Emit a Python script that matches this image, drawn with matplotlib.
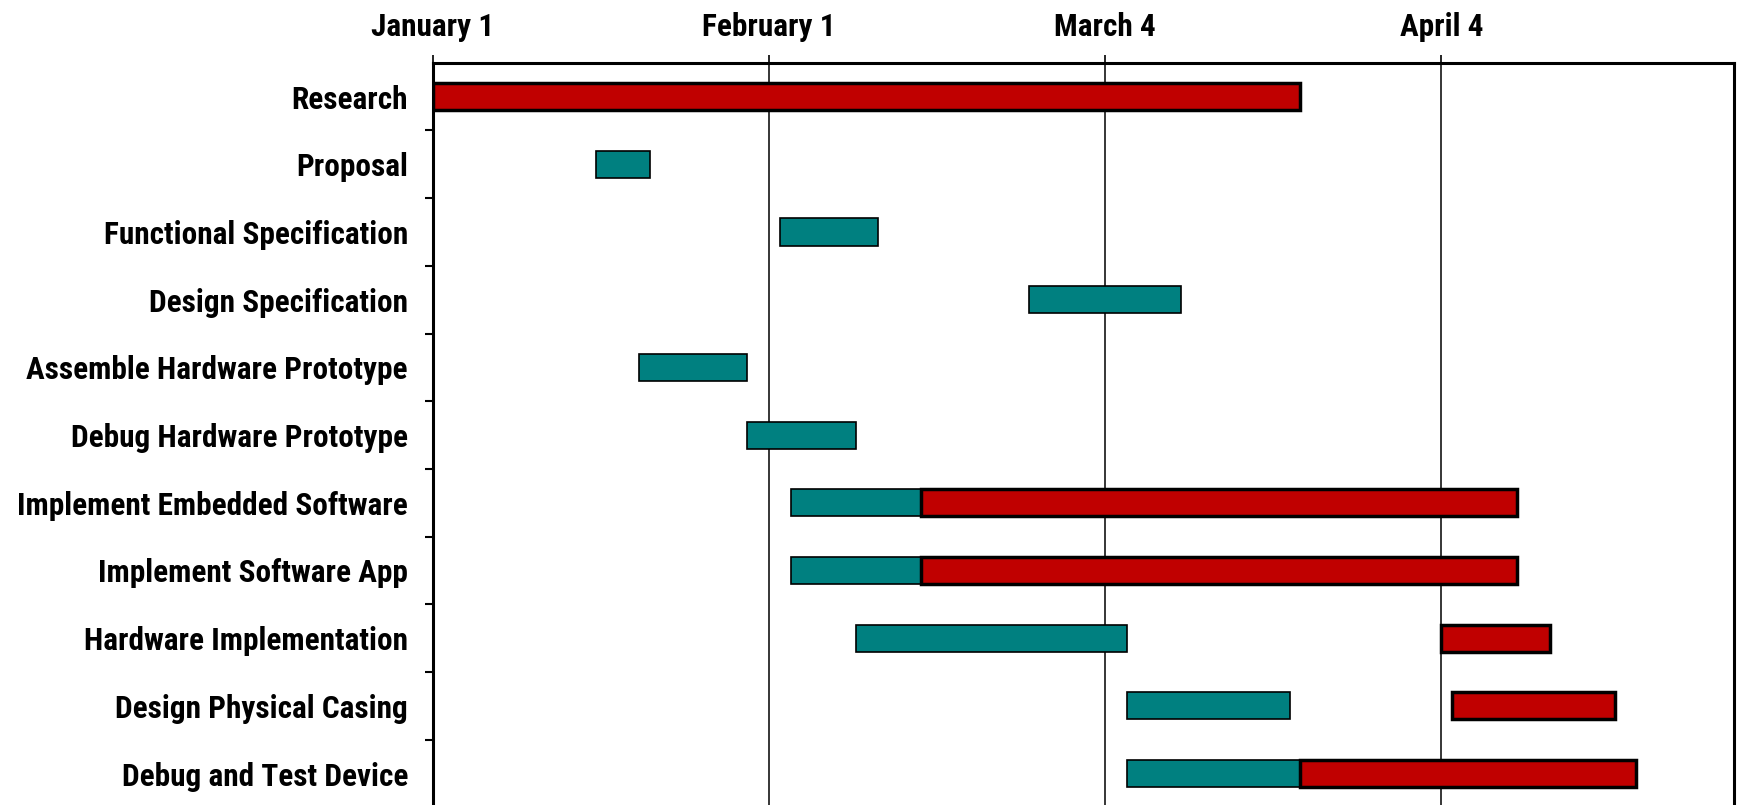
import numpy as np
import matplotlib
matplotlib.use('Agg')
from matplotlib import pyplot as plt

# tasks, top to bottom; values are days counted from January 1
tasks = ['Research', 'Proposal', 'Functional Specification', 'Design Specification',
         'Assemble Hardware Prototype', 'Debug Hardware Prototype',
         'Implement Embedded Software', 'Implement Software App',
         'Hardware Implementation', 'Design Physical Casing', 'Debug and Test Device']
teal_start = [None, 15, 32, 55, 19, 29, 33, 33, 39, 64, 64]
teal_end = [None, 20, 41, 69, 29, 39, 45, 45, 64, 79, 80]
red_start = [0, None, None, None, None, None, 45, 45, 93, 94, 80]
red_end = [80, None, None, None, None, None, 100, 100, 103, 109, 111]
tick_days = [0, 31, 62, 93]
tick_labels = ['January 1', 'February 1', 'March 4', 'April 4']

plt.rcParams['font.family'] = ['Roboto Condensed', 'DejaVu Sans']

fig = plt.figure(figsize=(17.41, 8.05), dpi=100)
ax = fig.add_axes([0.2487, -0.003, 0.7473, 0.925])

ys = np.arange(len(tasks))
for y, s, e in zip(ys, teal_start, teal_end):
    if s is not None:
        ax.barh(y, e - s, left=s, height=0.4, color='#008080', edgecolor='black',
                linewidth=1.2, zorder=2)
for y, s, e in zip(ys, red_start, red_end):
    if s is not None:
        ax.barh(y, e - s, left=s, height=0.4, color='#C00000', edgecolor='black',
                linewidth=2.5, zorder=3)

ax.set_xlim(0, 120)
ax.set_ylim(len(tasks) - 0.5, -0.5)

ax.xaxis.tick_top()
ax.set_xticks(tick_days)
ax.set_xticklabels(tick_labels, fontsize=22.5, fontweight='bold')
ax.tick_params(axis='x', length=6, width=1.2, pad=9)
for d in tick_days[1:]:
    ax.axvline(d, color='black', linewidth=1.1, zorder=1)

ax.set_yticks(ys)
ax.set_yticklabels(tasks, fontsize=22.5, fontweight='bold')
ax.set_yticks(ys[:-1] + 0.5, minor=True)
ax.tick_params(axis='y', which='major', length=0, pad=18)
ax.tick_params(axis='y', which='minor', length=6, width=1.5)

for side in ['top', 'left', 'right']:
    ax.spines[side].set_linewidth(2.2)
ax.spines['bottom'].set_visible(False)

plt.savefig('out.png', dpi=100)
